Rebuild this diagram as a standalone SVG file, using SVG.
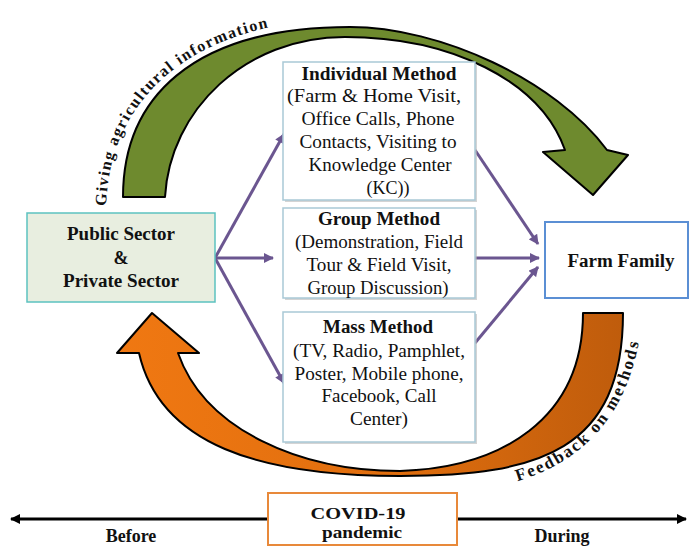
<svg xmlns="http://www.w3.org/2000/svg" width="689" height="547" viewBox="0 0 689 547">
<style>
.serif{font-family:"Liberation Serif","Times New Roman",serif;fill:#111;}
.b{font-weight:bold;}
.box{fill:#fff;stroke:#a9c9d6;stroke-width:1.5;}
.shadow{fill:#b8b8b8;opacity:0.6;}
.conn{stroke:#6b5690;stroke-width:3;fill:none;}
.tl{stroke:#000;stroke-width:3;fill:none;}
</style>
<defs>
<marker id="pa" viewBox="0 0 10 10" refX="9" refY="5" markerWidth="11" markerHeight="10" markerUnits="userSpaceOnUse" orient="auto">
<path d="M0,0 L10,5 L0,10 Z" fill="#6b5690"/>
</marker>
<marker id="ka" viewBox="0 0 10 10" refX="9" refY="5" markerWidth="11" markerHeight="10" markerUnits="userSpaceOnUse" orient="auto">
<path d="M0,0 L10,5 L0,10 Z" fill="#000"/>
</marker>
<linearGradient id="og" x1="0" y1="0" x2="1" y2="0">
<stop offset="0" stop-color="#f07812"/>
<stop offset="0.55" stop-color="#e06e0e"/>
<stop offset="1" stop-color="#bf5c0c"/>
</linearGradient>
<path id="tp1" d="M106,210 C107,110 175,38 300,22"/>
<path id="tp2" d="M500,486 C578,468 628,420 641,330"/>
</defs>
<rect width="689" height="547" fill="#fff"/>

<g id="green-arrow">
<path d="M123,197 C123,100 190,27 350,27 C440,27 555,80 607,150 L628,155 L593,195 L543,152 L565,150 C540,80 450,37 345,37 C245,37 170,110 165,197 Z" fill="#6e8a2e" stroke="#000" stroke-width="2" stroke-linejoin="round"/>
<text class="serif b" font-size="16"><textPath href="#tp1" startOffset="4" textLength="262" lengthAdjust="spacing">Giving agricultural information</textPath></text>
</g>

<g id="orange-arrow">
<path d="M623,313 C623,450 540,476 400,476 C260,476 160,445 139,353 L117,353 L152,313 L199,353 L178,353 C205,430 300,471 400,471 C500,468 583,420 583,313 Z" fill="url(#og)" stroke="#000" stroke-width="2" stroke-linejoin="round"/>
<text class="serif b" font-size="17"><textPath href="#tp2" startOffset="18" textLength="195" lengthAdjust="spacing">Feedback on methods</textPath></text>
</g>

<g id="connectors">
<line class="conn" x1="215" y1="258" x2="284" y2="134" marker-end="url(#pa)"/>
<line class="conn" x1="215" y1="258" x2="273" y2="258" marker-end="url(#pa)"/>
<line class="conn" x1="215" y1="258" x2="284" y2="383" marker-end="url(#pa)"/>
<line class="conn" x1="475" y1="150" x2="538" y2="244" marker-end="url(#pa)"/>
<line class="conn" x1="475" y1="258" x2="539" y2="258" marker-end="url(#pa)"/>
<line class="conn" x1="475" y1="343" x2="538" y2="267" marker-end="url(#pa)"/>
<line class="tl" x1="268" y1="519" x2="11" y2="519" marker-end="url(#ka)"/>
<line class="tl" x1="457" y1="519" x2="686" y2="519" marker-end="url(#ka)"/>
</g>

<g id="public-private">
<rect x="27" y="213" width="188" height="89" fill="#e8eee0" stroke="#5cc2c0" stroke-width="1.5"/>
<text class="serif b" font-size="18" text-anchor="middle" x="121" y="240" textLength="108" lengthAdjust="spacingAndGlyphs">Public Sector</text>
<text class="serif b" font-size="18" text-anchor="middle" x="121" y="264">&amp;</text>
<text class="serif b" font-size="18" text-anchor="middle" x="121" y="287" textLength="116" lengthAdjust="spacingAndGlyphs">Private Sector</text>
</g>

<g id="individual">
<rect class="shadow" x="285" y="64" width="192" height="138"/>
<rect class="box" x="283" y="62" width="192" height="138"/>
<text class="serif b" font-size="18" text-anchor="middle" x="379" y="80" textLength="155" lengthAdjust="spacingAndGlyphs">Individual Method</text>
<text class="serif" font-size="18" text-anchor="middle" x="374" y="102" textLength="174" lengthAdjust="spacingAndGlyphs">(Farm &amp; Home Visit,</text>
<text class="serif" font-size="18" text-anchor="middle" x="378" y="125" textLength="153" lengthAdjust="spacingAndGlyphs">Office Calls, Phone</text>
<text class="serif" font-size="18" text-anchor="middle" x="378" y="148" textLength="157" lengthAdjust="spacingAndGlyphs">Contacts, Visiting to</text>
<text class="serif" font-size="18" text-anchor="middle" x="380" y="171" textLength="143" lengthAdjust="spacingAndGlyphs">Knowledge Center</text>
<text class="serif" font-size="18" text-anchor="middle" x="388" y="194">(KC))</text>
</g>

<g id="group">
<rect class="shadow" x="285" y="210" width="192" height="90"/>
<rect class="box" x="283" y="208" width="192" height="90"/>
<text class="serif b" font-size="18" text-anchor="middle" x="379" y="225" textLength="122" lengthAdjust="spacingAndGlyphs">Group Method</text>
<text class="serif" font-size="18" text-anchor="middle" x="379" y="248" textLength="168" lengthAdjust="spacingAndGlyphs">(Demonstration, Field</text>
<text class="serif" font-size="18" text-anchor="middle" x="379" y="271" textLength="145" lengthAdjust="spacingAndGlyphs">Tour &amp; Field Visit,</text>
<text class="serif" font-size="18" text-anchor="middle" x="378" y="294" textLength="141" lengthAdjust="spacingAndGlyphs">Group Discussion)</text>
</g>

<g id="mass">
<rect class="shadow" x="285" y="314" width="192" height="130"/>
<rect class="box" x="283" y="312" width="192" height="130"/>
<text class="serif b" font-size="18" text-anchor="middle" x="378" y="333" textLength="110" lengthAdjust="spacingAndGlyphs">Mass Method</text>
<text class="serif" font-size="18" text-anchor="middle" x="379" y="357" textLength="172" lengthAdjust="spacingAndGlyphs">(TV, Radio, Pamphlet,</text>
<text class="serif" font-size="18" text-anchor="middle" x="379" y="380" textLength="169" lengthAdjust="spacingAndGlyphs">Poster, Mobile phone,</text>
<text class="serif" font-size="18" text-anchor="middle" x="379" y="402" textLength="115" lengthAdjust="spacingAndGlyphs">Facebook, Call</text>
<text class="serif" font-size="18" text-anchor="middle" x="379" y="425" textLength="58" lengthAdjust="spacingAndGlyphs">Center)</text>
</g>

<g id="farm-family">
<rect x="545" y="222" width="143" height="76" fill="#fff" stroke="#5b8fd4" stroke-width="2"/>
<text class="serif b" font-size="18" text-anchor="middle" x="621" y="267" textLength="107" lengthAdjust="spacingAndGlyphs">Farm Family</text>
</g>

<g id="covid">
<rect x="268" y="493" width="189" height="52" fill="#fff" stroke="#e8893a" stroke-width="2"/>
<text class="serif b" font-size="17" text-anchor="middle" x="358" y="519" textLength="95" lengthAdjust="spacingAndGlyphs">COVID-19</text>
<text class="serif b" font-size="17" text-anchor="middle" x="362" y="538" textLength="80" lengthAdjust="spacingAndGlyphs">pandemic</text>
</g>

<g id="labels">
<text class="serif b" font-size="18" text-anchor="middle" x="131" y="542">Before</text>
<text class="serif b" font-size="18" text-anchor="middle" x="562" y="542">During</text>
</g>
</svg>
